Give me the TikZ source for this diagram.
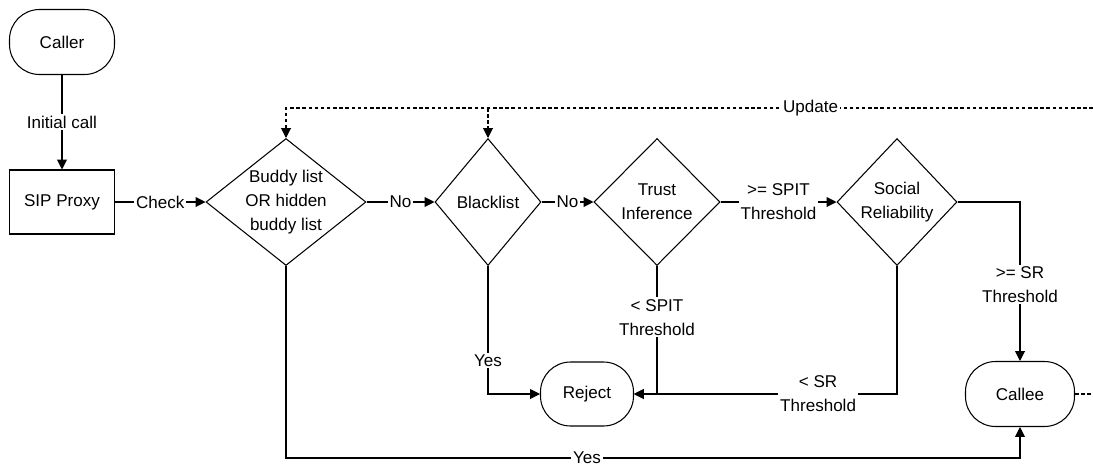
\documentclass[tikz,border=0pt]{standalone}
\usepackage{fontspec}
\setmainfont{Liberation Sans}
\usetikzlibrary{shapes.geometric, arrows.meta, calc}

\tikzset{
  term/.style={draw, rounded corners=0.6cm, minimum width=2.1cm, minimum height=1.3cm},
  proc/.style={draw, minimum width=2.1cm, minimum height=1.28cm},
  dec/.style={draw, diamond, inner sep=0pt, minimum height=2.54cm},
  lbl/.style={fill=white, inner sep=1pt, align=center},
  arr/.style={-{Triangle[length=5.6pt,width=5.6pt]}},
  upd/.style={dash pattern=on 2pt off 1.5pt},
}

\begin{document}
\begin{tikzpicture}[x=0.02cm, y=-0.02cm, line width=0.6pt,
  font=\fontsize{9.7}{13.6}\selectfont,
  every label/.append style={align=center}]
\useasboundingbox (0,0) rectangle (1093,464);

% boxes
\node[term] (caller) at (62,42) {Caller};
\node[proc] (sip) at (62,202) {SIP Proxy};
\node[dec, minimum width=3.2cm, label={center:Buddy list\\OR hidden\\buddy list}] (buddy) at (286,202) {};
\node[dec, minimum width=2.12cm, label={center:Blacklist}] (black) at (488,202) {};
\node[dec, minimum width=2.52cm, label={center:Trust\\Inference}] (trust) at (657,202) {};
\node[dec, minimum width=2.4cm, label={center:Social\\Reliability}] (social) at (897,202) {};
\node[term, minimum width=1.86cm, minimum height=1.28cm] (reject) at (587,394) {Reject};
\node[term, minimum width=2.18cm] (callee) at (1020,394) {Callee};

\coordinate (upd) at (1093,108);
\coordinate (yline) at (0,458);
\coordinate (out) at (1093,394);

% main flow
\draw[arr] (caller) -- node[lbl] {Initial call} (sip);
\draw[arr] (sip) -- node[lbl] {Check} (buddy);
\draw[arr] (buddy) -- node[lbl] {No} (black);
\draw[arr] (black) -- node[lbl] {No} (trust);
\draw[arr] (trust) -- node[lbl] {>= SPIT\\Threshold} (social);
\draw[arr] (social.east) -| node[lbl, pos=0.76] {>= SR\\Threshold} (callee.north);

% reject paths
\draw[arr] (black.south) |- node[lbl, pos=0.37] {Yes} (reject.west);
\draw[arr] (trust.south) |- node[lbl, pos=0.2] {< SPIT\\Threshold} (reject.east);
\draw[arr] (social.south) |- node[lbl, pos=0.65] {< SR\\Threshold} (reject.east);

% accepted
\draw[arr] (buddy.south) -- (buddy.south |- yline) -- node[lbl, pos=0.41] {Yes} (callee.south |- yline) -- (callee.south);

% update feedback
\draw[arr, upd] (upd) -- node[lbl, pos=0.35] {Update} (buddy.north |- upd) -- (buddy.north);
\draw[arr, upd] (black.north |- upd) -- (black.north);
\draw[upd] (callee.east) -- (out);
\end{tikzpicture}
\end{document}
